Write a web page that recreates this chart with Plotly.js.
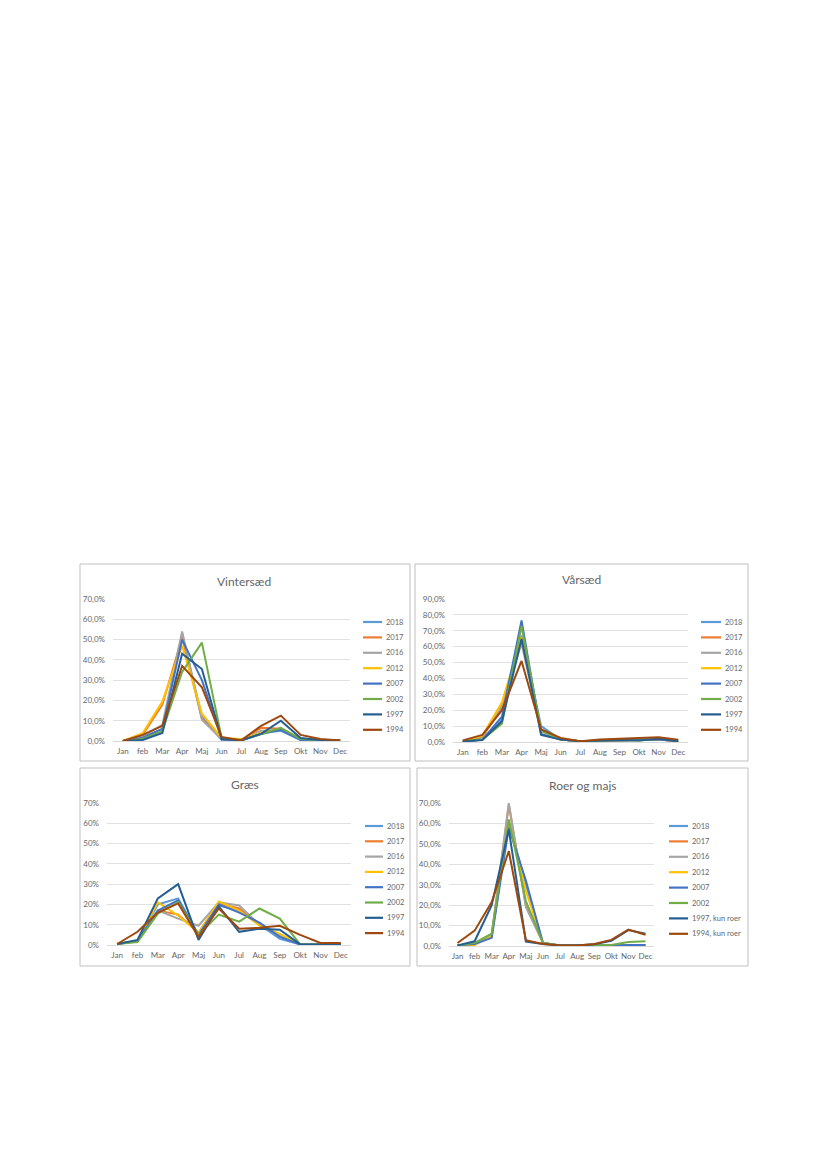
<!DOCTYPE html>
<html><head><meta charset="utf-8">
<script src="https://cdn.plot.ly/plotly-3.0.1.min.js"></script>
<style>html,body{margin:0;padding:0;background:#fff}</style></head>
<body><div id="chart" style="width:827px;height:1169px"></div>
<script>
// ---------- DATA ----------
const months = ['Jan','feb','Mar','Apr','Maj','Jun','Jul','Aug','Sep','Okt','Nov','Dec'];
const seriesNames = ['2018','2017','2016','2012','2007','2002','1997','1994'];
const roerNames = ['2018','2017','2016','2012','2007','2002','1997, kun roer','1994, kun roer'];

const vintersaed = [
  [0, 2, 6, 53, 12, 0.5, 0.3, 4, 5, 0.5, 0.3, 0.2],
  [0, 3, 18, 51, 11, 1, 0.5, 6.5, 6, 1, 0.5, 0.2],
  [0, 2.5, 8, 54, 10.5, 1, 0.5, 5, 5.5, 1, 0.5, 0.2],
  [0, 3.8, 19.5, 47, 13.5, 1.5, 1, 4, 6, 1, 0.5, 0.2],
  [0, 1.5, 6, 50, 30, 1, 0.5, 3.5, 5.5, 0.5, 0.3, 0.2],
  [0, 1, 5, 34, 48.5, 1.5, 0.3, 3.5, 6.5, 1, 0.5, 0.2],
  [0, 0.5, 4, 43, 35.5, 1, 0.3, 3.5, 10, 1.5, 0.5, 0.2],
  [0, 3, 7.5, 37, 26.5, 2, 0.3, 7.5, 12.5, 3, 1, 0.3]
];
const vaarsaed = [
  [0.3, 1.5, 14, 67, 10, 1.5, 0.5, 0.8, 1, 1, 1.5, 0.5],
  [0.3, 3, 22, 65, 8, 1.5, 0.5, 0.8, 1, 1, 1.5, 0.5],
  [0.3, 3.5, 23, 62, 7, 1.5, 0.5, 0.8, 1, 1, 1.5, 0.5],
  [0.3, 4, 25, 66, 7, 1.5, 0.5, 0.8, 1, 1, 1.5, 0.5],
  [0.3, 1.5, 16, 76.5, 5, 1.5, 0.5, 0.8, 1, 1, 1.5, 0.5],
  [0.3, 1.5, 11.5, 73, 7, 1.5, 0.5, 0.8, 1.2, 1, 2, 1],
  [0.3, 1.3, 13, 65, 4.5, 1.5, 0.5, 0.8, 1.2, 1, 2, 0.5],
  [1, 4.5, 20, 51, 8, 2.5, 0.5, 1.5, 2, 2.5, 3, 1.5]
];
const graes = [
  [0.5, 2, 20, 23, 5, 19.5, 17, 10, 3, 0.3, 0.3, 0.5],
  [0.5, 2, 17, 15, 6, 20.5, 18, 10, 5, 0.3, 0.3, 0.5],
  [0.5, 2, 17, 13, 9.5, 21, 19.5, 10, 5, 0.3, 0.3, 0.5],
  [0.5, 2, 21, 14.5, 6, 21.5, 17, 9.5, 5.5, 0.3, 0.3, 0.5],
  [0.5, 2, 17, 22, 5, 20, 16, 11, 4, 0.3, 0.3, 0.5],
  [0.5, 1.5, 15.5, 21, 5, 15, 11.5, 18, 13, 0.3, 0.3, 0.5],
  [0.5, 2.5, 23, 30, 2.5, 19, 6.5, 8, 7.5, 0.3, 0.3, 0.5],
  [0.5, 6.5, 16, 20.5, 4, 18, 8, 8.5, 9.5, 5, 1, 1]
];
const roerMajs = [
  [0.3, 1, 5, 61, 30, 1.5, 0.3, 0.2, 0.3, 0.3, 0.5, 0.5],
  [0.3, 1, 5, 69, 20, 1.5, 0.3, 0.2, 0.3, 0.3, 0.5, 0.5],
  [0.3, 1, 5.5, 70, 19, 1.5, 0.3, 0.2, 0.3, 0.3, 0.5, 0.5],
  [0.3, 0.5, 5, 61, 27, 1.5, 0.3, 0.2, 0.3, 0.3, 0.5, 0.5],
  [0.3, 1, 4, 58, 32, 1.5, 0.3, 0.2, 0.3, 0.3, 0.5, 0.5],
  [0.3, 1.5, 6, 62, 22, 1.5, 0.3, 0.2, 0.3, 0.5, 2, 2.3],
  [0.3, 2.3, 20, 57, 2.2, 1, 0.3, 0.2, 0.8, 2.5, 7.8, 6],
  [1.5, 7.5, 21.5, 46.5, 2.8, 1, 0.3, 0.2, 1, 3, 8, 5.5]
];

const ticks70 = [0, 10, 20, 30, 40, 50, 60, 70];
const ticks90 = [0, 10, 20, 30, 40, 50, 60, 70, 80, 90];
const labels70dec = ['0,0%','10,0%','20,0%','30,0%','40,0%','50,0%','60,0%','70,0%'];
const labels90dec = ['0,0%','10,0%','20,0%','30,0%','40,0%','50,0%','60,0%','70,0%','80,0%','90,0%'];
const labels70int = ['0%','10%','20%','30%','40%','50%','60%','70%'];

// ---------- STYLE / LAYOUT ----------
const colors = ['#5B9BD5','#ED7D31','#A5A5A5','#FFC000','#4472C4','#70AD47','#255E91','#9E480E'];
const W = 827, H = 1169;
const px = x => x / W, py = y => 1 - y / H;
const FONT = 'Lato, "Liberation Sans", sans-serif';
const TXT = '#666666';

const panels = [
  {title:'Vintersæd', data:vintersaed, names:seriesNames, ymax:70, tv:ticks70, tt:labels70dec,
   plot:[113,350,599,741], box:[80,410,564,761], tpos:[244,581], leg:[363,382,384,622,15.4]},
  {title:'Vårsæd', data:vaarsaed, names:seriesNames, ymax:90, tv:ticks90, tt:labels90dec,
   plot:[453,688,599,742], box:[415,748,564,761], tpos:[581,580], leg:[701,721,723,622,15.4]},
  {title:'Græs', data:graes, names:seriesNames, ymax:70, tv:ticks70, tt:labels70int,
   plot:[107,351,803,945], box:[80,410,768,966], tpos:[245,784], leg:[365,383,385,826,15.3]},
  {title:'Roer og majs', data:roerMajs, names:roerNames, ymax:70, tv:ticks70, tt:labels70dec,
   plot:[449,654,803,946], box:[417,748,768,966], tpos:[582,785], leg:[669,688,690,826,15.4]}
];

const traces = [];
const layout = {
  width: W, height: H, margin: {l:0, r:0, t:0, b:0},
  paper_bgcolor: '#fff', plot_bgcolor: 'rgba(0,0,0,0)',
  showlegend: false, font: {family: FONT, color: TXT},
  shapes: [], annotations: []
};

panels.forEach((p, k) => {
  const n = k === 0 ? '' : String(k + 1);
  const [x0, x1, yTop, yBot] = p.plot;
  layout['xaxis' + n] = {
    domain: [px(x0), px(x1)], anchor: 'y' + n, type: 'category',
    categoryorder: 'array', categoryarray: months, range: [-0.5, 11.5],
    showgrid: false, zeroline: false, showline: true, linecolor: '#d9d9d9', linewidth: 1,
    ticks: '', tickfont: {size: 8, color: TXT, family: FONT}, ticklabelstandoff: 2, fixedrange: true
  };
  layout['yaxis' + n] = {
    domain: [py(yBot), py(yTop)], anchor: 'x' + n, range: [0, p.ymax],
    tickvals: p.tv, ticktext: p.tt, showgrid: true, gridcolor: '#d9d9d9', gridwidth: 0.8,
    zeroline: false, showline: false, ticks: '', ticklabelstandoff: 7,
    tickfont: {size: 8, color: TXT, family: FONT}, fixedrange: true
  };
  p.data.forEach((vals, i) => {
    traces.push({
      type: 'scatter', mode: 'lines', x: months, y: vals, name: p.names[i],
      xaxis: 'x' + n, yaxis: 'y' + n,
      line: {color: colors[i], width: 2}, hoverinfo: 'skip'
    });
  });
  // panel border
  const [bx0, bx1, by0, by1] = p.box;
  layout.shapes.push({type:'rect', xref:'paper', yref:'paper', x0:px(bx0), x1:px(bx1), y0:py(by1), y1:py(by0),
    line:{color:'#bfbfbf', width:1}, fillcolor:'rgba(0,0,0,0)', layer:'below'});
  // title
  layout.annotations.push({xref:'paper', yref:'paper', x:px(p.tpos[0]), y:py(p.tpos[1]), text:p.title,
    showarrow:false, xanchor:'center', yanchor:'middle', font:{size:12, color:TXT, family:FONT}});
  // legend (manual, for compact Excel spacing)
  const [lx0, lx1, tx, ly0, dy] = p.leg;
  p.names.forEach((nm, i) => {
    const yy = ly0 + i * dy;
    layout.shapes.push({type:'line', xref:'paper', yref:'paper', x0:px(lx0), x1:px(lx1), y0:py(yy), y1:py(yy),
      line:{color:colors[i], width:2.2}});
    layout.annotations.push({xref:'paper', yref:'paper', x:px(tx), y:py(yy), text:nm, showarrow:false,
      xanchor:'left', yanchor:'middle', font:{size:7.5, color:TXT, family:FONT}});
  });
});

Plotly.newPlot('chart', traces, layout, {staticPlot: true, displayModeBar: false});
</script>
</body></html>
